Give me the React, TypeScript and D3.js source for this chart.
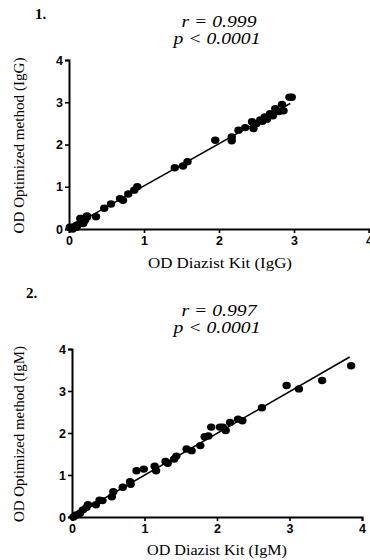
import React, { useEffect, useRef } from 'react';
import * as d3 from 'd3';

// IgG panel: OD Diazist kit (x) vs OD optimized method (y)
const iggX = [0.01, 0.05, 0.06, 0.1, 0.1, 0.11, 0.15, 0.15, 0.17, 0.19, 0.19, 0.21, 0.21, 0.24, 0.24, 0.36,
  0.47, 0.56, 0.68, 0.72, 0.79, 0.87, 0.91, 1.41, 1.52, 1.58, 1.95, 2.17, 2.17, 2.26, 2.35, 2.44, 2.46, 2.5,
  2.55, 2.58, 2.61, 2.64, 2.68, 2.72, 2.75, 2.8, 2.84, 2.86, 2.94, 2.97];
const iggY = [0.04, 0.0, 0.05, 0.04, 0.09, 0.09, 0.13, 0.25, 0.25, 0.13, 0.17, 0.21, 0.21, 0.28, 0.31, 0.29,
  0.49, 0.59, 0.72, 0.68, 0.83, 0.92, 1.0, 1.45, 1.49, 1.59, 2.1, 2.18, 2.09, 2.34, 2.4, 2.54, 2.38, 2.5,
  2.58, 2.55, 2.65, 2.6, 2.73, 2.68, 2.85, 2.78, 2.95, 2.8, 3.12, 3.12];

// IgM panel
const igmX = [0.02, 0.06, 0.11, 0.15, 0.2, 0.22, 0.33, 0.38, 0.42, 0.55, 0.57, 0.7, 0.8, 0.81, 0.89, 0.99,
  1.14, 1.16, 1.29, 1.32, 1.41, 1.44, 1.58, 1.65, 1.77, 1.83, 1.88, 1.92, 2.04, 2.08, 2.12, 2.18, 2.29, 2.35,
  2.62, 2.96, 3.13, 3.45, 3.85];
const igmY = [0.0, 0.05, 0.09, 0.17, 0.23, 0.29, 0.29, 0.4, 0.39, 0.48, 0.6, 0.71, 0.84, 0.78, 1.1, 1.14,
  1.21, 1.1, 1.32, 1.28, 1.38, 1.45, 1.62, 1.58, 1.7, 1.91, 1.93, 2.14, 2.14, 2.14, 2.06, 2.25, 2.33, 2.29,
  2.6, 3.13, 3.05, 3.25, 3.6];

// regression lines [slope, intercept, xEnd]
const iggFit = [1.0, 0.02, 2.95];
const igmFit = [0.995, 0.0, 3.83];

const tickValues = [0, 1, 2, 3, 4];

const panels = [
  {
    num: '1.', r: 'r = 0.999', p: 'p < 0.0001', xs: iggX, ys: iggY, fit: iggFit,
    xLabel: 'OD Diazist Kit (IgG)', yLabel: 'OD Optimized method (IgG)',
    left: 69, right: 369, top: 60, bottom: 229, numX: 35, numY: 19, rY: 27, pY: 44,
    xLabX: 220, xLabY: 268, xLabW: 144,
  },
  {
    num: '2.', r: 'r = 0.997', p: 'p < 0.0001', xs: igmX, ys: igmY, fit: igmFit,
    xLabel: 'OD Diazist Kit (IgM)', yLabel: 'OD Optimized method (IgM)',
    left: 72, right: 362, top: 349, bottom: 517, numX: 26, numY: 298, rY: 316, pY: 333,
    xLabX: 217, xLabY: 555, xLabW: 140,
  },
];

const serif = '"Liberation Serif", "Times New Roman", serif';

export default function App() {
  const ref = useRef<SVGSVGElement>(null);

  useEffect(() => {
    const svg = d3.select(ref.current);
    svg.selectAll('*').remove();

    panels.forEach(pn => {
      const x = d3.scaleLinear().domain([0, 4]).range([pn.left, pn.right]);
      const y = d3.scaleLinear().domain([0, 4]).range([pn.bottom, pn.top]);
      const g = svg.append('g');

      // panel number + stats
      g.append('text').attr('x', pn.numX).attr('y', pn.numY)
        .attr('font-family', serif).attr('font-weight', 'bold').attr('font-size', 15)
        .text(pn.num);
      g.append('text').attr('x', 219).attr('y', pn.rY).attr('text-anchor', 'middle')
        .attr('font-family', serif).attr('font-style', 'italic').attr('font-size', 16)
        .attr('textLength', 75).attr('lengthAdjust', 'spacingAndGlyphs')
        .text(pn.r);
      g.append('text').attr('x', 217).attr('y', pn.pY).attr('text-anchor', 'middle')
        .attr('font-family', serif).attr('font-style', 'italic').attr('font-size', 16)
        .attr('textLength', 87).attr('lengthAdjust', 'spacingAndGlyphs')
        .text(pn.p);

      // axes
      const xAxis = d3.axisBottom(x).tickValues(tickValues).tickSize(4).tickPadding(3).tickFormat(d3.format('d'));
      const yAxis = d3.axisLeft(y).tickValues(tickValues).tickSize(4).tickPadding(2).tickFormat(d3.format('d'));
      [
        g.append('g').attr('transform', `translate(0,${pn.bottom})`).call(xAxis),
        g.append('g').attr('transform', `translate(${pn.left},0)`).call(yAxis),
      ].forEach(ax => {
        ax.select('.domain').attr('stroke', '#000').attr('stroke-width', 2);
        ax.selectAll('.tick line').attr('stroke', '#000').attr('stroke-width', 1.6);
        ax.selectAll('.tick text')
          .attr('fill', '#000')
          .attr('font-family', '"Liberation Sans", Arial, sans-serif')
          .attr('font-weight', 'bold')
          .attr('font-size', 12.5);
      });

      // axis titles
      g.append('text').attr('x', pn.xLabX).attr('y', pn.xLabY)
        .attr('text-anchor', 'middle')
        .attr('font-family', serif).attr('font-size', 15)
        .attr('textLength', pn.xLabW).attr('lengthAdjust', 'spacingAndGlyphs')
        .text(pn.xLabel);
      g.append('text')
        .attr('transform', `translate(24,${(pn.top + pn.bottom) / 2 + 1}) rotate(-90)`)
        .attr('text-anchor', 'middle')
        .attr('font-family', serif).attr('font-size', 15)
        .attr('textLength', 176).attr('lengthAdjust', 'spacingAndGlyphs')
        .text(pn.yLabel);

      // fit line
      const [m, b, xe] = pn.fit;
      g.append('path')
        .attr('d', d3.line<number>().x(v => x(v)).y(v => y(m * v + b))([0, xe]))
        .attr('stroke', '#000').attr('stroke-width', 1.6).attr('fill', 'none');

      // points
      g.selectAll('ellipse.pt')
        .data(pn.xs.map((v, i) => [v, pn.ys[i]]))
        .enter()
        .append('ellipse')
        .attr('class', 'pt')
        .attr('cx', d => x(d[0]))
        .attr('cy', d => y(d[1]))
        .attr('rx', 4.2)
        .attr('ry', 3.7)
        .attr('fill', '#000');
    });
  }, []);

  return (
    <svg ref={ref} width={370} height={560}
      style={{ position: 'absolute', left: 0, top: 0, background: '#fff' }} />
  );
}
